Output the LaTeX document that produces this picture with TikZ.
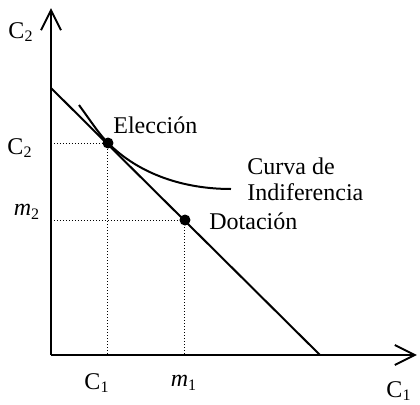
\documentclass[tikz,border=0pt]{standalone}
\usepackage{fontspec}
\setmainfont{Liberation Serif}
\usepackage{tikz}
\usetikzlibrary{arrows.meta}
\tikzset{
  axisline/.style={line width=1pt, -{Straight Barb[length=10pt,width=10pt,line width=1pt]}},
  budgetline/.style={line width=1pt},
  indcurve/.style={line width=1pt},
  guideline/.style={line width=0.5pt, densely dotted},
  bundle/.style={circle, fill=black, inner sep=0pt, minimum size=5.5pt},
  axislabel/.style={inner sep=0pt, font=\fontsize{12}{13}\selectfont},
  curvelabel/.style={inner sep=0pt, align=left, font=\fontsize{12}{13}\selectfont}
}
\begin{document}
\begin{tikzpicture}[x=0.5pt, y=0.5pt]
\useasboundingbox (0,0) rectangle (420,404);
% axes
\coordinate (o) at (51,49);
\coordinate (ytop) at (51,396);
\coordinate (xend) at (417,49);
\draw[axisline] (o) -- (ytop);
\draw[axisline] (o) -- (xend);
% budget line
\coordinate (btop) at (51,316);
\coordinate (bbot) at (320,49);
\draw[budgetline] (btop) -- (bbot);
% bundles
\node[bundle] (elec) at (108,261) {};
\node[bundle] (dot) at (185,184) {};
\coordinate (elecx) at (108,49);
\coordinate (elecy) at (51,261);
\coordinate (dotx) at (185,49);
\coordinate (doty) at (51,184);
\draw[guideline] (elecy) -- (elec.center) -- (elecx);
\draw[guideline] (doty) -- (dot.center) -- (dotx);
% indifference curve
\coordinate (icstart) at (79,299);
\coordinate (icend) at (231,215);
\draw[indcurve] (icstart) .. controls (92,281) and (100,269) .. (elec.center)
  .. controls (140,229) and (185,215) .. (icend);
% labels
\node[axislabel] (c2top) at (21,372) {C\textsubscript{2}};
\node[axislabel] (c2) at (20,256) {C\textsubscript{2}};
\node[axislabel] (m2) at (27,192) {\textit{m}\textsubscript{2}};
\node[axislabel] (c1) at (97,21) {C\textsubscript{1}};
\node[axislabel] (m1) at (184,21) {\textit{m}\textsubscript{1}};
\node[axislabel] (c1right) at (399,13) {C\textsubscript{1}};
\node[curvelabel, anchor=base west] (eleclabel) at (113,271) {Elección};
\node[curvelabel, anchor=base west] (dotlabel) at (209,175) {Dotación};
\node[curvelabel, anchor=north west] (iclabel) at (247,247) {Curva de\\Indiferencia};
\end{tikzpicture}
\end{document}
